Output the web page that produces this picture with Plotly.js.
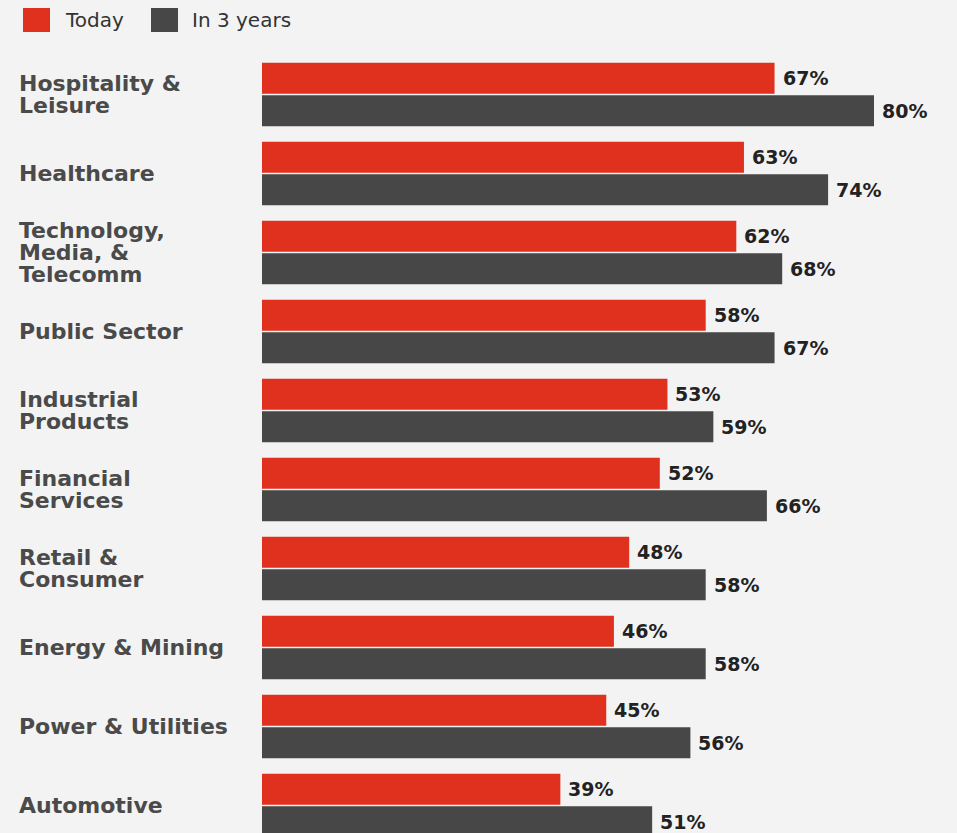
<!DOCTYPE html>
<html>
<head>
<meta charset="utf-8">
<script src="https://cdn.plot.ly/plotly-3.0.1.min.js"></script>
<style>
  html, body { margin: 0; padding: 0; background: #f3f3f3; }
  #chart { width: 957px; height: 833px; }
</style>
</head>
<body>
<div id="chart"></div>
<script>
// ---- Data ----
const categories = [
  "Hospitality &<br>Leisure",
  "Healthcare",
  "Technology,<br>Media, &<br>Telecomm",
  "Public Sector",
  "Industrial<br>Products",
  "Financial<br>Services",
  "Retail &<br>Consumer",
  "Energy & Mining",
  "Power & Utilities",
  "Automotive"
];
const todayValues = [67, 63, 62, 58, 53, 52, 48, 46, 45, 39];
const in3YearsValues = [80, 74, 68, 67, 59, 66, 58, 58, 56, 51];
const seriesNames = ["Today", "In 3 years"];

// ---- Styling ----
const RED = "#e0301e";
const GREY = "#474747";
const W = 957, H = 833;
const M = { l: 262, r: 0, t: 55, b: 0 };
const PW = W - M.l - M.r, PH = H - M.t - M.b;
const BARGAP = 0.177, GROUPGAP = 0.05;

const idx = categories.map((c, i) => i);

const traces = [
  { type: "bar", orientation: "h", name: seriesNames[0], x: todayValues, y: idx,
    marker: { color: RED }, hoverinfo: "x" },
  { type: "bar", orientation: "h", name: seriesNames[1], x: in3YearsValues, y: idx,
    marker: { color: GREY }, hoverinfo: "x" }
];

const pxX = px => (px - M.l) / PW;
const pxY = py => (H - M.b - py) / PH;

const annotations = [];
// category labels, one annotation per line
const LINE = 22;
categories.forEach((c, i) => {
  const lines = c.split("<br>");
  const n = lines.length;
  lines.forEach((ln, j) => {
    annotations.push({
      xref: "paper", yref: "y", x: pxX(17), y: i, xanchor: "left", yanchor: "middle",
      yshift: ((n - 1) / 2 - j) * LINE,
      text: ln, showarrow: false,
      font: { family: "DejaVu Sans", size: 22, color: "#4a4a4a", weight: "bold" }
    });
  });
});
// value labels
const slot = (1 - BARGAP) / 2;
[todayValues, in3YearsValues].forEach((vals, s) => {
  const off = (s === 0 ? -0.5 : 0.5) * slot;
  vals.forEach((v, i) => {
    annotations.push({
      xref: "x", yref: "y", x: v, y: i + off, xanchor: "left", yanchor: "middle",
      xshift: 6, text: v + "%", showarrow: false,
      font: { family: "DejaVu Sans", size: 19, color: "#222222", weight: "bold" }
    });
  });
});
// custom legend
const legendItems = [
  { color: RED, x0: 23, x1: 50, tx: 63, label: seriesNames[0] },
  { color: GREY, x0: 151, x1: 178, tx: 190, label: seriesNames[1] }
];
const shapes = [];
legendItems.forEach(it => {
  shapes.push({ type: "rect", xref: "paper", yref: "paper",
    x0: pxX(it.x0), x1: pxX(it.x1), y0: pxY(32), y1: pxY(8),
    fillcolor: it.color, line: { width: 0 } });
  annotations.push({ xref: "paper", yref: "paper", x: pxX(it.tx), y: pxY(20),
    xanchor: "left", yanchor: "middle", text: it.label, showarrow: false,
    font: { family: "DejaVu Sans", size: 20, color: "#333333" } });
});

const layout = {
  width: W, height: H,
  margin: M,
  paper_bgcolor: "#f3f3f3",
  plot_bgcolor: "#f3f3f3",
  barmode: "group",
  bargap: BARGAP,
  bargroupgap: GROUPGAP,
  showlegend: false,
  xaxis: { range: [0, PW / 7.65], visible: false, fixedrange: true },
  yaxis: { range: [-0.5 + PH / 79, -0.5], visible: false, fixedrange: true },
  annotations: annotations,
  shapes: shapes
};

Plotly.newPlot("chart", traces, layout, { displayModeBar: false, staticPlot: true });
</script>
</body>
</html>
